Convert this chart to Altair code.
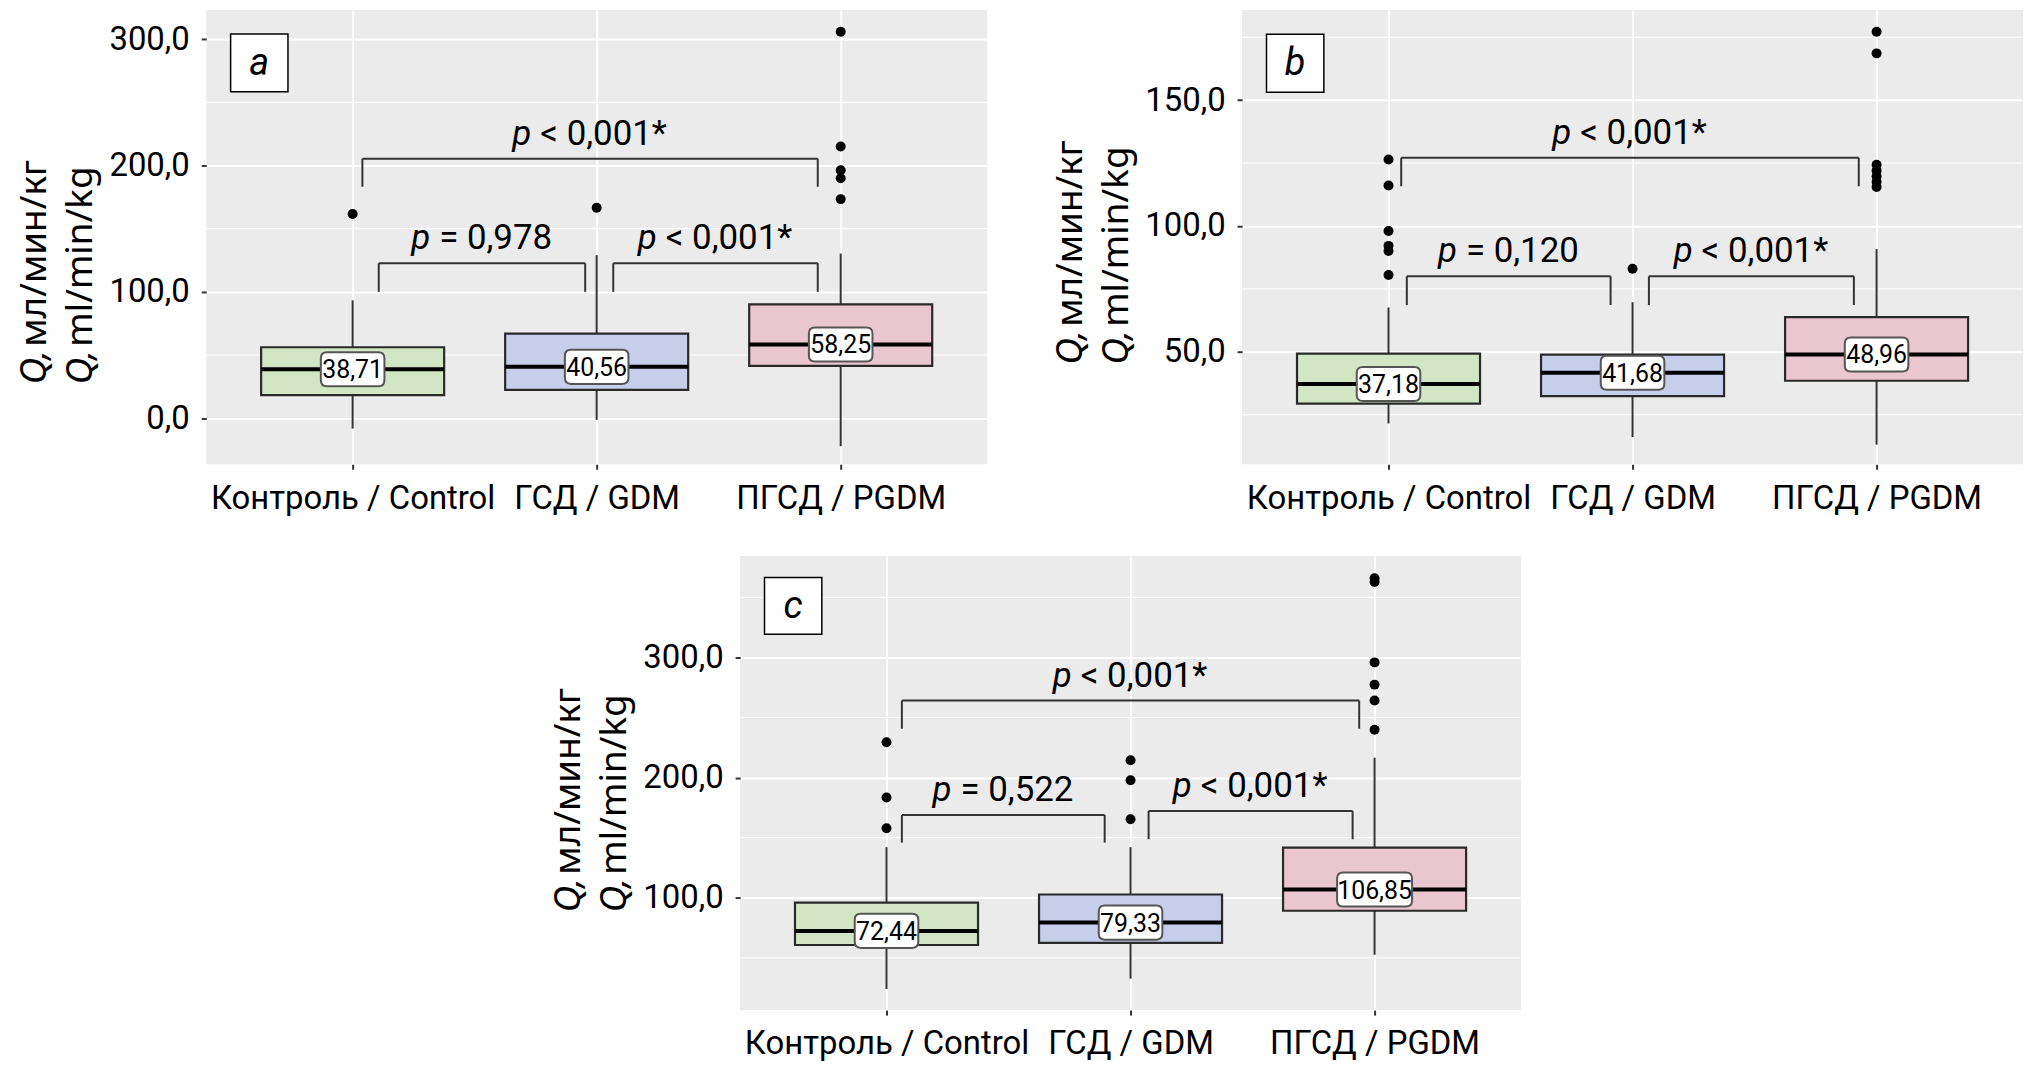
import altair as alt
import pandas as pd

# ---------------- data ----------------
groups = ["Контроль / Control", "ГСД / GDM", "ПГСД / PGDM"]
group_pos = [1, 2, 3]
fills = ["#D2E6C5", "#C7CEEA", "#EAC6D1"]

# panel a
a_q1 = [18.2, 22.3, 41.3]
a_med = [38.71, 40.56, 58.25]
a_q3 = [56.1, 66.8, 90.1]
a_lo = [-8.3, -1.4, -22.3]
a_hi = [93.3, 129.0, 130.3]
a_out_g = [1, 2, 3, 3, 3, 3, 3]
a_out_v = [161.6, 166.5, 306.0, 215.1, 196.3, 189.9, 173.4]
a_br_x1 = [1.107, 2.068, 1.040]
a_br_x2 = [1.953, 2.906, 2.906]
a_br_y = [122.6, 122.6, 205.4]
a_br_foot = [100.0, 100.0, 183.2]
a_p = ["= 0,978", "< 0,001*", "< 0,001*"]
a_dom = [-36.6, 323.1]
a_major = [0, 100, 200, 300]
a_minor = [50, 150, 250]
a_tag_y = [258.4, 304.2]

# panel b
b_q1 = [29.4, 32.4, 38.5]
b_med = [37.18, 41.68, 48.96]
b_q3 = [49.3, 48.9, 63.8]
b_lo = [21.5, 16.1, 13.1]
b_hi = [67.6, 69.7, 90.8]
b_out_g = [1, 1, 1, 1, 1, 1, 2, 3, 3, 3, 3, 3, 3, 3]
b_out_v = [126.4, 116.1, 98.0, 92.1, 90.1, 80.5, 83.0,
           177.2, 168.6, 124.3, 122.0, 119.8, 117.6, 115.5]
b_br_x1 = [1.075, 2.067, 1.052]
b_br_x2 = [1.910, 2.907, 2.927]
b_br_y = [80.0, 80.0, 127.1]
b_br_foot = [68.6, 68.6, 115.8]
b_p = ["= 0,120", "< 0,001*", "< 0,001*"]
b_dom = [5.3, 185.8]
b_major = [50, 100, 150]
b_minor = [25, 75, 125, 175]
b_tag_y = [153.1, 176.2]

# panel c
c_q1 = [60.7, 62.5, 89.2]
c_med = [72.44, 79.33, 106.85]
c_q3 = [96.0, 102.7, 141.8]
c_lo = [24.1, 32.7, 52.6]
c_hi = [142.1, 142.1, 216.6]
c_out_g = [1, 1, 1, 2, 2, 2, 3, 3, 3, 3, 3, 3]
c_out_v = [229.5, 183.5, 157.8, 214.4, 197.8, 165.3,
           366.0, 362.8, 295.9, 277.4, 264.1, 239.8]
c_br_x1 = [1.063, 2.074, 1.063]
c_br_x2 = [1.894, 2.910, 2.937]
c_br_y = [168.9, 172.2, 264.1]
c_br_foot = [145.9, 148.7, 240.7]
c_p = ["= 0,522", "< 0,001*", "< 0,001*"]
c_dom = [6.5, 384.5]
c_major = [100, 200, 300]
c_minor = [50, 150, 250, 350]
c_tag_y = [319.3, 366.6]

tag_x = [0.50, 0.735]
y_title_lines = [["Q,", " мл/мин/кг"], ["Q,", " ml/min/kg"]]

# ---------------- style ----------------
FN = "Roboto, Liberation Sans, sans-serif"
FT = "Noto Sans, Open Sans, DejaVu Sans, sans-serif"
W, H = 784, 456
BG = "#EBEBEB"
DARK = "#333333"


def rrect(hw, hh, r):
    return (f"M{-hw + r},{-hh} L{hw - r},{-hh} Q{hw},{-hh} {hw},{-hh + r} "
            f"L{hw},{hh - r} Q{hw},{hh} {hw - r},{hh} L{-hw + r},{hh} "
            f"Q{-hw},{hh} {-hw},{hh - r} L{-hw},{-hh + r} Q{-hw},{-hh} {-hw + r},{-hh} Z")


SHAPE5 = rrect(0.84, 0.45, 0.16)
SHAPE6 = rrect(0.99, 0.45, 0.16)

label_expr_x = "[" + ",".join("'" + g + "'" for g in groups) + "][datum.value - 1]"


def panel(tag, q1, med, q3, lo, hi, out_g, out_v, bx1, bx2, by, bfoot, pv,
          dom, major, minor, tag_y, title_shift):
    xs = alt.Scale(domain=[0.4, 3.6], nice=False, zero=False)
    ys = alt.Scale(domain=dom, nice=False, zero=False)
    xaxis = alt.Axis(values=group_pos, labelExpr=label_expr_x, labelFont=FN,
                     labelFontSize=33, labelColor="black", labelAngle=0,
                     labelLimit=600, tickColor=DARK, tickWidth=2, tickSize=5,
                     labelPadding=13, domain=False, grid=True, gridColor="white",
                     gridWidth=2, title=None)
    yaxis = alt.Axis(values=major,
                     labelExpr="replace(format(datum.value, '.1f'), '.', ',')",
                     labelFont=FN, labelFontSize=33, labelColor="black",
                     tickColor=DARK, tickWidth=2, tickSize=5, labelPadding=12,
                     domain=False, grid=True, gridColor="white", gridWidth=2,
                     title=None)

    box = pd.DataFrame({"pos": group_pos, "q1": q1, "med": med, "q3": q3,
                        "lo": lo, "hi": hi, "fill": fills})
    base = alt.Chart(box).transform_calculate(
        xl="datum.pos - 0.375", xr="datum.pos + 0.375",
        lab="replace(format(datum.med, '.2f'), '.', ',')")

    minor_df = pd.DataFrame({"v": minor})
    minor_grid = alt.Chart(minor_df).mark_rule(color="white", strokeWidth=1).encode(
        y=alt.Y("v:Q", scale=ys, axis=yaxis))

    w_up = base.mark_rule(color=DARK, strokeWidth=2).encode(
        x=alt.X("pos:Q", scale=xs, axis=xaxis), y=alt.Y("q3:Q", scale=ys), y2="hi:Q")
    w_dn = base.mark_rule(color=DARK, strokeWidth=2).encode(
        x=alt.X("pos:Q", scale=xs), y=alt.Y("lo:Q", scale=ys), y2="q1:Q")
    boxes = base.mark_rect(stroke="#2A2A2A", strokeWidth=2.2).encode(
        x=alt.X("xl:Q", scale=xs), x2="xr:Q",
        y=alt.Y("q1:Q", scale=ys), y2="q3:Q",
        fill=alt.Fill("fill:N", scale=None))
    medline = base.mark_rule(color="black", strokeWidth=4).encode(
        x=alt.X("xl:Q", scale=xs), x2="xr:Q", y=alt.Y("med:Q", scale=ys))

    out_df = pd.DataFrame({"pos": out_g, "v": out_v})
    outl = alt.Chart(out_df).mark_circle(color="black", size=100, opacity=1).encode(
        x=alt.X("pos:Q", scale=xs), y=alt.Y("v:Q", scale=ys))

    lab_box = base.mark_point(filled=True, fill="white", stroke="#555555",
                              strokeWidth=2, opacity=1, size=76 * 76).encode(
        x=alt.X("pos:Q", scale=xs), y=alt.Y("med:Q", scale=ys),
        shape=alt.condition("length(datum.lab) > 5", alt.value(SHAPE6), alt.value(SHAPE5)))
    lab_txt = base.mark_text(font=FN, fontSize=25, color="black",
                             baseline="middle", align="center", dy=1).encode(
        x=alt.X("pos:Q", scale=xs), y=alt.Y("med:Q", scale=ys), text="lab:N")

    segs = []
    for i in range(len(bx1)):
        segs.append({"x": bx1[i], "x2": bx1[i], "y": bfoot[i], "y2": by[i]})
        segs.append({"x": bx1[i], "x2": bx2[i], "y": by[i], "y2": by[i]})
        segs.append({"x": bx2[i], "x2": bx2[i], "y": bfoot[i], "y2": by[i]})
    seg_df = pd.DataFrame(segs)
    brackets = alt.Chart(seg_df).mark_rule(color=DARK, strokeWidth=2).encode(
        x=alt.X("x:Q", scale=xs), x2="x2:Q", y=alt.Y("y:Q", scale=ys), y2="y2:Q")

    p_df = pd.DataFrame({"xm": [(a + b) / 2 for a, b in zip(bx1, bx2)],
                         "y": by, "rest": pv, "p": ["p"] * len(pv)})
    pbase = alt.Chart(p_df)
    lt = "indexof(datum.rest, '<') == 0"
    eq = "indexof(datum.rest, '<') != 0"
    p_layers = []
    for flt, off in [(lt, -50), (eq, -43)]:
        p_layers.append(pbase.transform_filter(flt).mark_text(
            font=FN, fontSize=35, color="black", align="left",
            baseline="alphabetic", dx=off, dy=-14).encode(
            x=alt.X("xm:Q", scale=xs), y=alt.Y("y:Q", scale=ys), text="rest:N"))
        p_layers.append(pbase.transform_filter(flt).mark_text(
            font=FN, fontSize=35, fontStyle="italic", color="black", align="right",
            baseline="alphabetic", dx=off - 9, dy=-14).encode(
            x=alt.X("xm:Q", scale=xs), y=alt.Y("y:Q", scale=ys), text="p:N"))

    tag_df = pd.DataFrame({"x": [tag_x[0]], "x2": [tag_x[1]], "y": [tag_y[0]],
                           "y2": [tag_y[1]], "t": [tag],
                           "xm": [sum(tag_x) / 2], "ym": [sum(tag_y) / 2]})
    tag_rect = alt.Chart(tag_df).mark_rect(fill="white", stroke="black",
                                           strokeWidth=1.5).encode(
        x=alt.X("x:Q", scale=xs), x2="x2:Q", y=alt.Y("y:Q", scale=ys), y2="y2:Q")
    tag_txt = alt.Chart(tag_df).mark_text(font=FN, fontSize=38, fontStyle="italic",
                                          color="black", baseline="middle",
                                          align="center", dy=1).encode(
        x=alt.X("xm:Q", scale=xs), y=alt.Y("ym:Q", scale=ys), text="t:N")

    # y-axis title (two lines, italic Q)
    title_layers = []
    yc = H / 2 + title_shift
    half = 118
    for k, (qpart, rest) in enumerate(y_title_lines):
        xpos = -161 + 46 * k
        tdf = pd.DataFrame({"q": [qpart], "r": [rest]})
        title_layers.append(alt.Chart(tdf).mark_text(
            font=FT, fontSize=37, fontStyle="italic", color="black", angle=270,
            align="left", baseline="alphabetic").encode(
            x=alt.value(xpos), y=alt.value(yc + half), text="q:N"))
        title_layers.append(alt.Chart(tdf).mark_text(
            font=FT, fontSize=37, color="black", angle=270,
            align="left", baseline="alphabetic").encode(
            x=alt.value(xpos), y=alt.value(yc + half - 38), text="r:N"))

    layers = [minor_grid, w_up, w_dn, boxes, medline, outl, lab_box, lab_txt,
              brackets] + p_layers + [tag_rect, tag_txt] + title_layers
    return alt.layer(*layers).properties(
        width=W, height=H, view=alt.ViewBackground(fill=BG, stroke=None))


pa = panel("a", a_q1, a_med, a_q3, a_lo, a_hi, a_out_g, a_out_v, a_br_x1, a_br_x2,
           a_br_y, a_br_foot, a_p, a_dom, a_major, a_minor, a_tag_y, 30)
pb = panel("b", b_q1, b_med, b_q3, b_lo, b_hi, b_out_g, b_out_v, b_br_x1, b_br_x2,
           b_br_y, b_br_foot, b_p, b_dom, b_major, b_minor, b_tag_y, 10)
pc = panel("c", c_q1, c_med, c_q3, c_lo, c_hi, c_out_g, c_out_v, c_br_x1, c_br_x2,
           c_br_y, c_br_foot, c_p, c_dom, c_major, c_minor, c_tag_y, 12)

spacer = alt.Chart(pd.DataFrame({"v": [0]})).mark_point(opacity=0).encode(
    x=alt.value(0), y=alt.value(0)).properties(
    width=345, height=10, view=alt.ViewBackground(stroke=None, fill=None))

chart = alt.vconcat(
    alt.hconcat(pa, pb, spacing=64),
    alt.hconcat(spacer, pc, spacing=0),
    spacing=38,
).properties(
    padding={"left": 8, "top": 0, "right": 0, "bottom": 0},
    background="white",
).configure_view(stroke=None)

chart.save("out.html", embed_options={"renderer": "svg", "actions": False})
